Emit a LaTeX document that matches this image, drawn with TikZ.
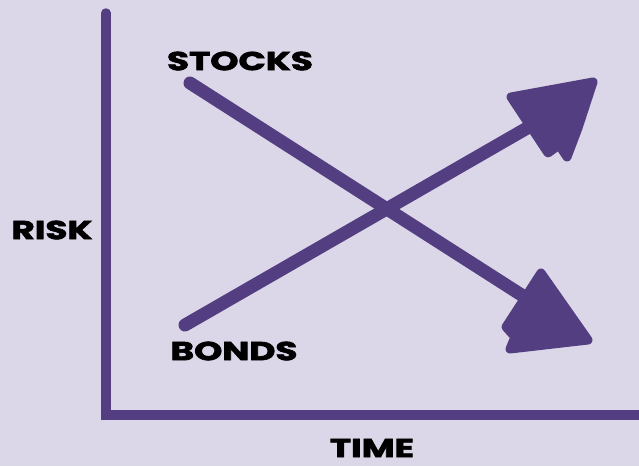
\documentclass[tikz,border=0pt]{standalone}
\usepackage{fontspec}
\setmainfont{Poppins}[BoldFeatures={FakeBold=2.2}]
\usepackage{graphicx}
\usetikzlibrary{positioning,calc}
\definecolor{rkbg}{HTML}{DCD7E8}
\definecolor{rkpurple}{HTML}{523E80}
\newcommand{\widelbl}[1]{\scalebox{1.38}[1]{\bfseries #1}}

\begin{document}
\begin{tikzpicture}[x=1pt,y=-1pt]
  \tikzstyle{axis}=[draw=rkpurple,line width=9.5pt,line cap=round]
  \tikzstyle{trend}=[draw=rkpurple,line width=13pt,line cap=round]
  \tikzstyle{head}=[fill=rkpurple,draw=rkpurple,line width=9pt,line join=round]
  \tikzstyle{lbl}=[font=\fontsize{26}{26}\selectfont,text=black,inner sep=0pt]
  % background and page size
  \fill[rkbg] (0,0) rectangle (639,466);
  \useasboundingbox (0,0) rectangle (639,466);
  % axes
  \coordinate (ytop) at (106,13);
  \coordinate (origin) at (106,415);
  \coordinate (xend) at (650,415);
  \draw[axis] (ytop) -- (origin) -- (xend);
  \node[lbl] (risk) at (52,230) {\widelbl{RISK}};
  \node[lbl] (time) at (372,448) {\widelbl{TIME}};
  % stocks: risk goes down
  \coordinate (stk0) at (190,83);
  \coordinate (stk1) at (545,310);
  \draw[trend] (stk0) -- (stk1);
  \filldraw[head] (541,273) -- (588,340) -- (510,349) -- (515,337) -- (506,327) -- cycle;
  \node[lbl] (stocks) at (240,61) {\widelbl{STOCKS}};
  % bonds: risk goes up
  \coordinate (bnd0) at (185,325);
  \coordinate (bnd1) at (555,112);
  \draw[trend] (bnd0) -- (bnd1);
  \filldraw[head] (511,97) -- (593,82) -- (578,128) -- (567,157) -- (559,145) -- (548,153) -- cycle;
  \node[lbl] (bonds) at (234,351) {\widelbl{BONDS}};
\end{tikzpicture}
\end{document}
